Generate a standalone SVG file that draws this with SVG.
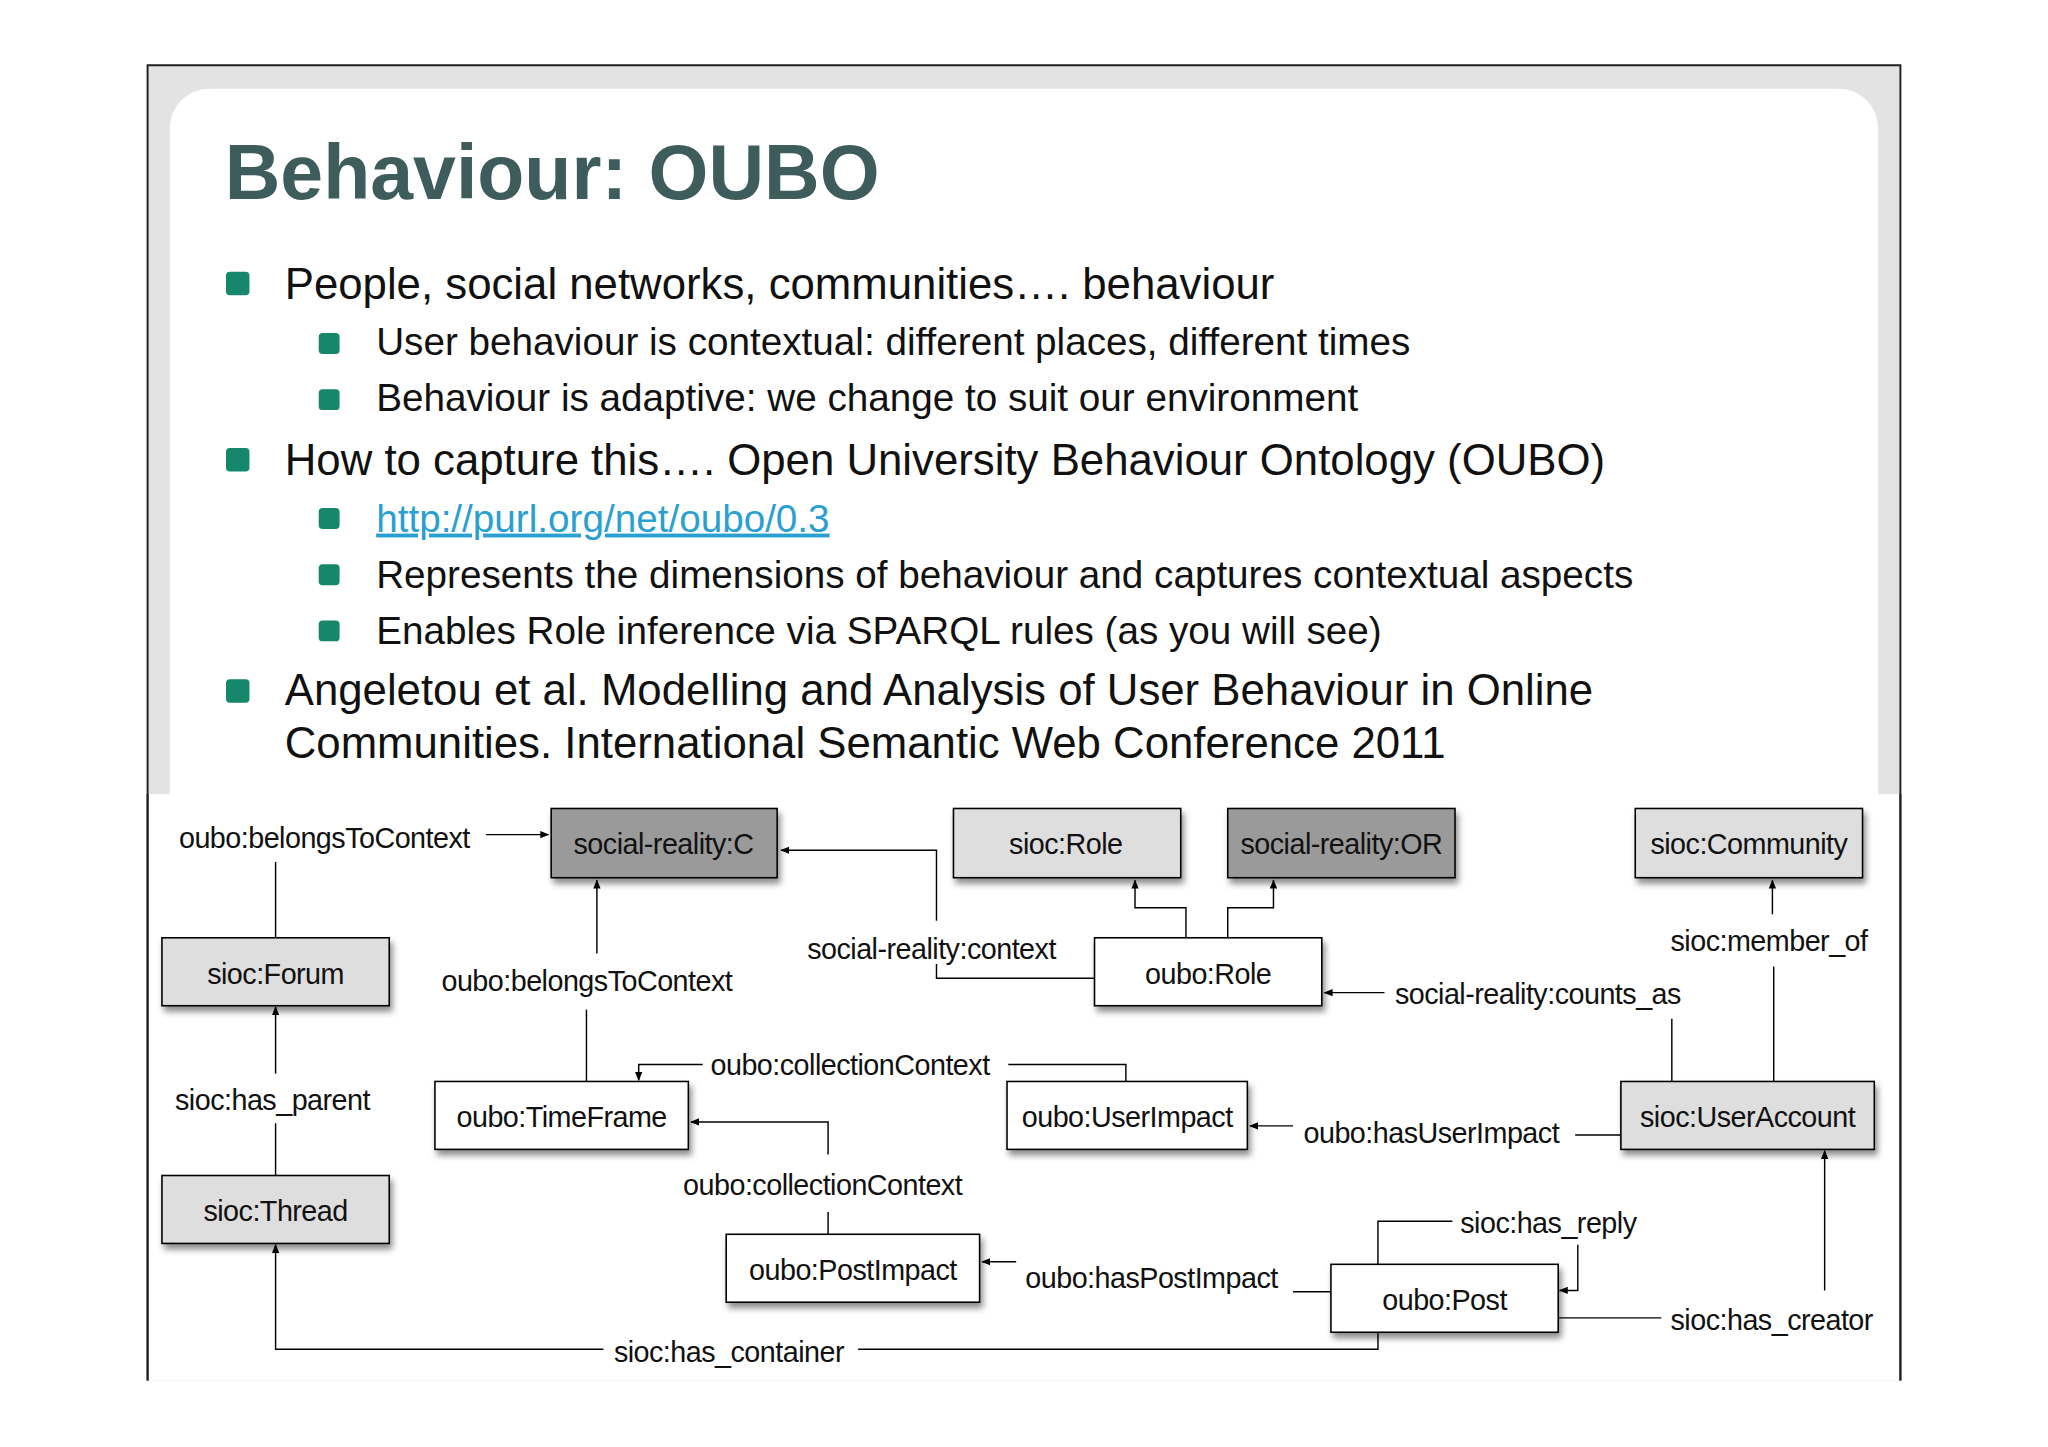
<svg xmlns="http://www.w3.org/2000/svg" width="2048" height="1447" viewBox="0 0 2048 1447">
<defs>
<filter id="sh" x="-10%" y="-10%" width="130%" height="150%"><feDropShadow dx="2" dy="4" stdDeviation="2.5" flood-color="#000" flood-opacity="0.45"/></filter>
<marker id="ah" viewBox="0 0 10 10" refX="9" refY="5" markerWidth="7" markerHeight="7" orient="auto" markerUnits="userSpaceOnUse"><path d="M0,1 L10,5 L0,9 z" fill="#000"/></marker>
</defs>
<style>
.t{font-family:"Liberation Sans",Arial,sans-serif;fill:#111}
.l1{font-size:33.5px}
.l2{font-size:29.6px}
.bl{fill:#17876b}
.n{stroke:#000;stroke-width:1.2}
.nt{font-family:"Liberation Sans",Arial,sans-serif;font-size:22px;fill:#111;text-anchor:middle;letter-spacing:-0.4px}
.lb{font-family:"Liberation Sans",Arial,sans-serif;font-size:22px;fill:#111;letter-spacing:-0.4px}
.c{fill:none;stroke:#000;stroke-width:1.1}
</style>
<rect width="2048" height="1447" fill="#fff"/>
<g transform="scale(1.30612)">
<rect x="113" y="50" width="1342" height="1007" fill="#e3e3e3"/>
<path d="M113,1057 V50 H1455 V1057" fill="none" stroke="#222" stroke-width="1.5"/>
<rect x="130" y="68" width="1308" height="600" rx="30" fill="#fff"/>
<rect x="114" y="608" width="1340" height="449" fill="#fff"/>
<path d="M113,608 V1057 M1455,608 V1057" stroke="#222" stroke-width="1.5"/>
<text x="172" y="152" font-family="Liberation Sans,Arial,sans-serif" font-weight="bold" font-size="59" fill="#3e5c5c">Behaviour: OUBO</text>
<rect class="bl" x="173" y="208" width="18" height="18" rx="3"/>
<text class="t l1" x="218" y="229">People, social networks, communities…. behaviour</text>
<rect class="bl" x="244" y="255" width="16" height="16" rx="3"/>
<text class="t l2" x="288" y="272">User behaviour is contextual: different places, different times</text>
<rect class="bl" x="244" y="298" width="16" height="16" rx="3"/>
<text class="t l2" x="288" y="315">Behaviour is adaptive: we change to suit our environment</text>
<rect class="bl" x="173" y="343" width="18" height="18" rx="3"/>
<text class="t l1" x="218" y="364">How to capture this…. Open University Behaviour Ontology (OUBO)</text>
<rect class="bl" x="244" y="389" width="16" height="16" rx="3"/>
<text class="t l2" x="288" y="407" style="fill:#2a9fd2;text-decoration:underline">http://purl.org/net/oubo/0.3</text>
<rect class="bl" x="244" y="432" width="16" height="16" rx="3"/>
<text class="t l2" x="288" y="450">Represents the dimensions of behaviour and captures contextual aspects</text>
<rect class="bl" x="244" y="475" width="16" height="16" rx="3"/>
<text class="t l2" x="288" y="493">Enables Role inference via SPARQL rules (as you will see)</text>
<rect class="bl" x="173" y="520" width="18" height="18" rx="3"/>
<text class="t l1" x="218" y="540">Angeletou et al. Modelling and Analysis of User Behaviour in Online</text>
<text class="t l1" x="218" y="580">Communities. International Semantic Web Conference 2011</text>

<g id="connectors">
<path class="c" d="M211,718 V660"/>
<text class="lb" x="137" y="649">oubo:belongsToContext</text>
<path class="c" d="M372,639 H420" marker-end="url(#ah)"/>
<path class="c" d="M449,828 V773"/>
<path class="c" d="M457,730 V674" marker-end="url(#ah)"/>
<text class="lb" x="338" y="759">oubo:belongsToContext</text>
<path class="c" d="M838,749 H717 V738 M717,705 V651 H598" marker-end="url(#ah)"/>
<text class="lb" x="618" y="734">social-reality:context</text>
<path class="c" d="M908,718 V695 H869 V674" marker-end="url(#ah)"/>
<path class="c" d="M940,718 V695 H975 V674" marker-end="url(#ah)"/>
<path class="c" d="M1060,760 H1014" marker-end="url(#ah)"/>
<text class="lb" x="1068" y="769">social-reality:counts_as</text>
<path class="c" d="M1280,828 V780"/>
<path class="c" d="M1358,828 V740"/>
<text class="lb" x="1279" y="728">sioc:member_of</text>
<path class="c" d="M1357,700 V674" marker-end="url(#ah)"/>
<path class="c" d="M1241,869 H1206"/>
<text class="lb" x="998" y="875">oubo:hasUserImpact</text>
<path class="c" d="M990,862 H957" marker-end="url(#ah)"/>
<path class="c" d="M862,828 V815 H772"/>
<text class="lb" x="544" y="823">oubo:collectionContext</text>
<path class="c" d="M538,815 H489 V827" marker-end="url(#ah)"/>
<path class="c" d="M634,945 V928 M634,884 V859 H529" marker-end="url(#ah)"/>
<text class="lb" x="523" y="915">oubo:collectionContext</text>
<path class="c" d="M1019,989 H990"/>
<text class="lb" x="785" y="986">oubo:hasPostImpact</text>
<path class="c" d="M778,966 H752" marker-end="url(#ah)"/>
<path class="c" d="M1055,968 V935 H1112"/>
<text class="lb" x="1118" y="944">sioc:has_reply</text>
<path class="c" d="M1208,953 V988 H1194" marker-end="url(#ah)"/>
<path class="c" d="M1193,1009 H1272"/>
<text class="lb" x="1279" y="1018">sioc:has_creator</text>
<path class="c" d="M1397,988 V881" marker-end="url(#ah)"/>
<path class="c" d="M1055,1020 V1033 H657"/>
<text class="lb" x="470" y="1043">sioc:has_container</text>
<path class="c" d="M462,1033 H211 V953" marker-end="url(#ah)"/>
<path class="c" d="M211,900 V860"/>
<text class="lb" x="134" y="850">sioc:has_parent</text>
<path class="c" d="M211,822 V771" marker-end="url(#ah)"/>
</g>

<g id="n-src"><rect class="n" x="422" y="619" width="173" height="53" fill="#9a9a9a" filter="url(#sh)"/><text class="nt" x="508" y="654">social-reality:C</text></g>
<g id="n-siocrole"><rect class="n" x="730" y="619" width="174" height="53" fill="#dedede" filter="url(#sh)"/><text class="nt" x="816" y="654">sioc:Role</text></g>
<g id="n-sror"><rect class="n" x="940" y="619" width="174" height="53" fill="#9a9a9a" filter="url(#sh)"/><text class="nt" x="1027" y="654">social-reality:OR</text></g>
<g id="n-community"><rect class="n" x="1252" y="619" width="174" height="53" fill="#dedede" filter="url(#sh)"/><text class="nt" x="1339" y="654">sioc:Community</text></g>
<g id="n-forum"><rect class="n" x="124" y="718" width="174" height="52" fill="#dedede" filter="url(#sh)"/><text class="nt" x="211" y="753">sioc:Forum</text></g>
<g id="n-oubrole"><rect class="n" x="838" y="718" width="174" height="52" fill="#fff" filter="url(#sh)"/><text class="nt" x="925" y="753">oubo:Role</text></g>
<g id="n-timeframe"><rect class="n" x="333" y="828" width="194" height="52" fill="#fff" filter="url(#sh)"/><text class="nt" x="430" y="863">oubo:TimeFrame</text></g>
<g id="n-userimpact"><rect class="n" x="771" y="828" width="184" height="52" fill="#fff" filter="url(#sh)"/><text class="nt" x="863" y="863">oubo:UserImpact</text></g>
<g id="n-useraccount"><rect class="n" x="1241" y="828" width="194" height="52" fill="#dedede" filter="url(#sh)"/><text class="nt" x="1338" y="863">sioc:UserAccount</text></g>
<g id="n-thread"><rect class="n" x="124" y="900" width="174" height="52" fill="#dedede" filter="url(#sh)"/><text class="nt" x="211" y="935">sioc:Thread</text></g>
<g id="n-postimpact"><rect class="n" x="556" y="945" width="194" height="52" fill="#fff" filter="url(#sh)"/><text class="nt" x="653" y="980">oubo:PostImpact</text></g>
<g id="n-post"><rect class="n" x="1019" y="968" width="174" height="52" fill="#fff" filter="url(#sh)"/><text class="nt" x="1106" y="1003">oubo:Post</text></g>
</g>
</svg>
